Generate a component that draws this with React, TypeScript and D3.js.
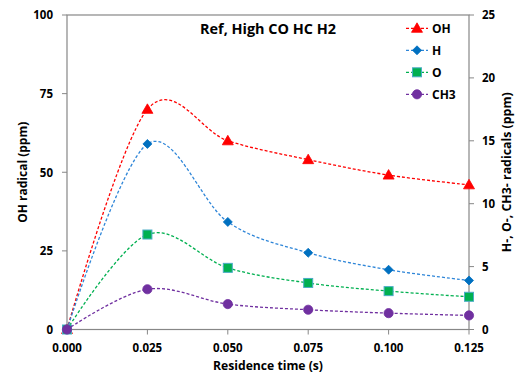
import React from "react";
import * as d3 from "d3";

const times = [0, 0.025, 0.05, 0.075, 0.1, 0.125];
const ohValues = [0, 70, 60, 54, 49.1, 46];
const hValues = [0, 14.75, 8.55, 6.1, 4.75, 3.9];
const oValues = [0, 7.55, 4.9, 3.7, 3.05, 2.6];
const ch3Values = [0, 3.2, 2.02, 1.57, 1.3, 1.12];
const xTicks = [0, 0.025, 0.05, 0.075, 0.1, 0.125];
const leftTicks = [0, 25, 50, 75, 100];
const rightTicks = [0, 5, 10, 15, 20, 25];

const W = 518, H = 378;
const m = { left: 67, right: 469, top: 15, bottom: 329.5 };
const FONT = "'Open Sans', Lato, sans-serif";
const AXIS = "#878787";

type Series = { name: string; values: number[]; axis: "left" | "right"; line: string; fill: string; stroke: string; marker: string };
const series: Series[] = [
  { name: "OH", values: ohValues, axis: "left", line: "#FF0000", fill: "#FF0000", stroke: "#FF0000", marker: "triangle" },
  { name: "H", values: hValues, axis: "right", line: "#2F86D8", fill: "#0070C0", stroke: "#0070C0", marker: "diamond" },
  { name: "O", values: oValues, axis: "right", line: "#00B050", fill: "#00B050", stroke: "#4BACC6", marker: "square" },
  { name: "CH3", values: ch3Values, axis: "right", line: "#7030A0", fill: "#7030A0", stroke: "#7030A0", marker: "circle" },
];

function Marker({ type, x, y, fill, stroke }: { type: string; x: number; y: number; fill: string; stroke: string }) {
  if (type === "triangle") {
    return <path d={`M${x},${y - 5.5}L${x + 5.5},${y + 4}L${x - 5.5},${y + 4}Z`} fill={fill} stroke={stroke} strokeWidth={0.8} />;
  }
  if (type === "diamond") {
    return <path d={`M${x},${y - 4.5}L${x + 4.5},${y}L${x},${y + 4.5}L${x - 4.5},${y}Z`} fill={fill} stroke={stroke} strokeWidth={0.8} />;
  }
  if (type === "square") {
    return <rect x={x - 4.5} y={y - 4.5} width={9} height={9} fill={fill} stroke={stroke} strokeWidth={1} />;
  }
  return <circle cx={x} cy={y} r={4.6} fill={fill} stroke={stroke} strokeWidth={0.8} />;
}

export default function App() {
  const x = d3.scaleLinear().domain([0, 0.125]).range([m.left, m.right]);
  const yL = d3.scaleLinear().domain([0, 100]).range([m.bottom, m.top]);
  const yR = d3.scaleLinear().domain([0, 25]).range([m.bottom, m.top]);
  const cx = 268;
  const cy = (m.top + m.bottom) / 2;

  return (
    <svg width={W} height={H} style={{ display: "block", position: "absolute", left: 0, top: 0 }} fontFamily={FONT}>
      <rect width={W} height={H} fill="#fff" />
      <rect x={m.left} y={m.top} width={m.right - m.left} height={m.bottom - m.top} fill="none" stroke={AXIS} strokeWidth={1.2} />
      {xTicks.map((t) => (
        <g key={"x" + t}>
          <line x1={x(t)} x2={x(t)} y1={m.bottom} y2={m.bottom + 5} stroke={AXIS} />
          <text x={x(t)} y={352} textAnchor="middle" fontSize={11.5} fontWeight="bold" fill="#000">{d3.format(".3f")(t)}</text>
        </g>
      ))}
      {leftTicks.map((t) => (
        <g key={"l" + t}>
          <line x1={m.left - 5} x2={m.left} y1={yL(t)} y2={yL(t)} stroke={AXIS} />
          <text x={53} y={yL(t) + 4.3} textAnchor="end" fontSize={11.5} fontWeight="bold" fill="#000">{t}</text>
        </g>
      ))}
      {rightTicks.map((t) => (
        <g key={"r" + t}>
          <line x1={m.right} x2={m.right + 5} y1={yR(t)} y2={yR(t)} stroke={AXIS} />
          <text x={482} y={yR(t) + 4.3} textAnchor="start" fontSize={11.5} fontWeight="bold" fill="#000">{t}</text>
        </g>
      ))}
      <text x={cx} y={370} textAnchor="middle" fontSize={11.5} fontWeight="bold" textLength={110} lengthAdjust="spacingAndGlyphs">Residence time (s)</text>
      <text transform={`translate(27,${cy}) rotate(-90)`} textAnchor="middle" fontSize={11.5} fontWeight="bold" textLength={101} lengthAdjust="spacingAndGlyphs">OH radical (ppm)</text>
      <text transform={`translate(510.5,${cy}) rotate(-90)`} textAnchor="middle" fontSize={11.5} fontWeight="bold" textLength={160} lengthAdjust="spacingAndGlyphs">H-, O-, CH3- radicals (ppm)</text>
      <text x={200} y={34} fontSize={14} fontWeight="bold" textLength={136} lengthAdjust="spacingAndGlyphs">Ref, High CO HC H2</text>
      {series.map((s) => {
        const ys = s.axis === "left" ? yL : yR;
        const line = d3.line<number>().x((_, i) => x(times[i])).y((v) => ys(v)).curve(d3.curveCardinal.tension(0));
        return (
          <g key={s.name}>
            <path d={line(s.values) || ""} fill="none" stroke={s.line} strokeWidth={1.3} strokeDasharray="3,2" />
            {s.values.map((v, i) => (
              <Marker key={i} type={s.marker} x={x(times[i])} y={ys(v)} fill={s.fill} stroke={s.stroke} />
            ))}
          </g>
        );
      })}
      {series.map((s, i) => {
        const ly = 28.3 + i * 22;
        return (
          <g key={"lg" + s.name}>
            <line x1={406} x2={428} y1={ly} y2={ly} stroke={s.line} strokeWidth={1.3} strokeDasharray="3,2" />
            <Marker type={s.marker} x={417} y={ly} fill={s.fill} stroke={s.stroke} />
            <text x={432} y={ly + 4.5} fontSize={12} fontWeight="bold">{s.name}</text>
          </g>
        );
      })}
    </svg>
  );
}
